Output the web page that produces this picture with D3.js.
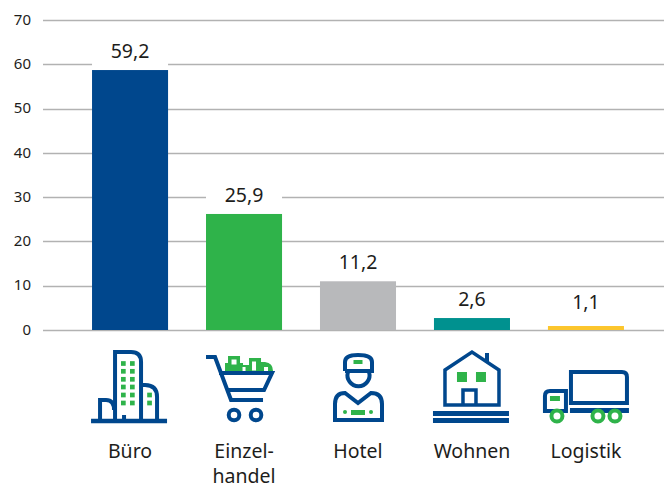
<!DOCTYPE html>
<html><head><meta charset="utf-8">
<script src="https://cdn.jsdelivr.net/npm/d3@7"></script>
<style>html,body{margin:0;background:#fff}svg{display:block}text{font-family:"Noto Sans",sans-serif;fill:#1d1d1b}</style>
</head><body><svg id="c" width="664" height="484"></svg>
<script>
const categories = ["Büro","Einzelhandel","Hotel","Wohnen","Logistik"];
const categoryLines = [["Büro"],["Einzel-","handel"],["Hotel"],["Wohnen"],["Logistik"]];
const valueLabels = ["59,2","25,9","11,2","2,6","1,1"];
const barHeights = [58.7,26.2,11.0,2.7,0.9];
const barColors = ["#00478d","#2fb34a","#b8b9bb","#00918f","#fcc62d"];
const yTicks = [0,10,20,30,40,50,60,70];
const BLUE="#00478d", GREEN="#2fb34a";

const svg=d3.select("#c");
const x=d3.scaleBand().domain(categories).range([73,643]).paddingInner(0.333).paddingOuter(0.167);
const y=d3.scaleLinear().domain([0,70]).range([330,20]);

const axis=d3.axisLeft(y).tickValues(yTicks).tickSize(0).tickPadding(0).tickFormat(d3.format("d"));
const ga=svg.append("g").attr("transform","translate(31,-1)").call(axis);
ga.select(".domain").remove();
ga.selectAll("text").attr("font-size",15).attr("text-anchor","end").attr("x",0).attr("dy","0.35em").style("font-family",'"Noto Sans",sans-serif');

svg.append("g").selectAll("line").data(yTicks).join("line")
 .attr("x1",43).attr("x2",664).attr("y1",d=>Math.round(y(d))+.5).attr("y2",d=>Math.round(y(d))+.5)
 .attr("stroke","#b2b2b2").attr("stroke-width",1.3);

svg.append("g").selectAll("rect").data(categories).join("rect")
 .attr("x",d=>x(d)).attr("width",x.bandwidth())
 .attr("y",(d,i)=>y(barHeights[i])-26).attr("height",26).attr("fill","#fff");

svg.append("g").selectAll("rect").data(categories).join("rect")
 .attr("x",d=>x(d)).attr("width",x.bandwidth())
 .attr("y",(d,i)=>y(barHeights[i])).attr("height",(d,i)=>y(0)-y(barHeights[i]))
 .attr("fill",(d,i)=>barColors[i]);

svg.append("g").selectAll("text").data(categories).join("text")
 .attr("x",d=>x(d)+x.bandwidth()/2).attr("y",(d,i)=>Math.min(y(barHeights[i]),321)-12)
 .attr("text-anchor","middle").attr("font-size",19.5).text((d,i)=>valueLabels[i]);

svg.append("g").selectAll("text").data(categories).join("text")
 .attr("text-anchor","middle").attr("font-size",19.5)
 .each(function(d,i){
   d3.select(this).selectAll("tspan").data(categoryLines[i]).join("tspan")
    .attr("x",x(d)+x.bandwidth()/2).attr("y",(t,j)=>458+j*25).text(t=>t);
 });

function icon(i,draw){ const g=svg.append("g").attr("transform",`translate(${x(categories[i])+x.bandwidth()/2},0)`)
  .attr("fill","none").attr("stroke",BLUE).attr("stroke-width",4); draw(g); }
const sq=(g,cx,cy,w,h,c=GREEN)=>g.append("rect").attr("x",cx-w/2).attr("y",cy-h/2).attr("width",w).attr("height",h).attr("fill",c).attr("stroke","none");
const p=(g,d,c=BLUE,w=4)=>g.append("path").attr("d",d).attr("stroke",c).attr("stroke-width",w);

icon(0,g=>{
  p(g,"M-39 421H37",BLUE,4.5);
  p(g,"M-15 420V352H1Q11 352 11 362V420");
  p(g,"M11 385H15Q27 385 27 397V420");
  p(g,"M-30 420V400H-24Q-16 400 -16 410");
  p(g,"M-6 420V415",BLUE,4);
  [363.5,371.3,379.3,387,395,403].forEach(v=>{sq(g,-6.7,v,4.7,4.7);sq(g,2.3,v,4.7,4.7);});
  [395,403].forEach(v=>sq(g,19.5,v,4.7,4.7));
});
icon(1,g=>{
  g.append("path").attr("stroke","none").attr("fill",GREEN)
   .attr("d","M-19 371V363H-16V356H-4V363H-1V371ZM-3 371V365H5V358H17V362H21Q29 363 29 371Z");
  sq(g,-10,362,5,5,"#fff");
  sq(g,0,369,3,4,"#fff"); sq(g,10,366,4,9,"#fff"); sq(g,22,369,4,4,"#fff");
  p(g,"M-38 357H-29L-13 400H19",BLUE,4);
  p(g,"M-25 373H28L20 390H-18",BLUE,4);
  g.append("circle").attr("cx",-10).attr("cy",415).attr("r",5.3);
  g.append("circle").attr("cx",12).attr("cy",415).attr("r",5.3);
});
icon(2,g=>{
  p(g,"M-13 371V362Q-13 355 0 355Q14 355 14 362V371H-13",BLUE,4);
  p(g,"M-10 372A11 11 0 1 0 11 372",BLUE,4);
  p(g,"M-23 420V404Q-23 393 -13 393L0 403L13 393Q24 393 24 404V420Z",BLUE,4);
  sq(g,0,362,9,4); sq(g,0,412.5,14,5);
  g.append("circle").attr("cx",-13).attr("cy",412).attr("r",2).attr("fill",GREEN).attr("stroke","none");
  g.append("circle").attr("cx",13).attr("cy",412).attr("r",2).attr("fill",GREEN).attr("stroke","none");
});
icon(3,g=>{
  p(g,"M-27 405V370L0 352L27 370V405Z",BLUE,3.5);
  p(g,"M15 362V353",BLUE,4);
  p(g,"M-9 405V390H4V405",BLUE,3.5);
  sq(g,-10,377,10,10); sq(g,9,377,10,10);
  p(g,"M-39 413.5H37",BLUE,5); p(g,"M-39 420.5H37",BLUE,5);
});
icon(4,g=>{
  p(g,"M-15 372H36Q41 372 41 377V403H-15Z",BLUE,4);
  p(g,"M-16 410.5H43",BLUE,5);
  p(g,"M-20 411H-41V396Q-41 391 -36 391H-20Z",BLUE,4);
  sq(g,-31,398.5,10,5);
  [-29,12,29].forEach(v=>g.append("circle").attr("cx",v).attr("cy",416).attr("r",5.5).attr("fill","#fff").attr("stroke",GREEN).attr("stroke-width",4));
});
</script></body></html>
